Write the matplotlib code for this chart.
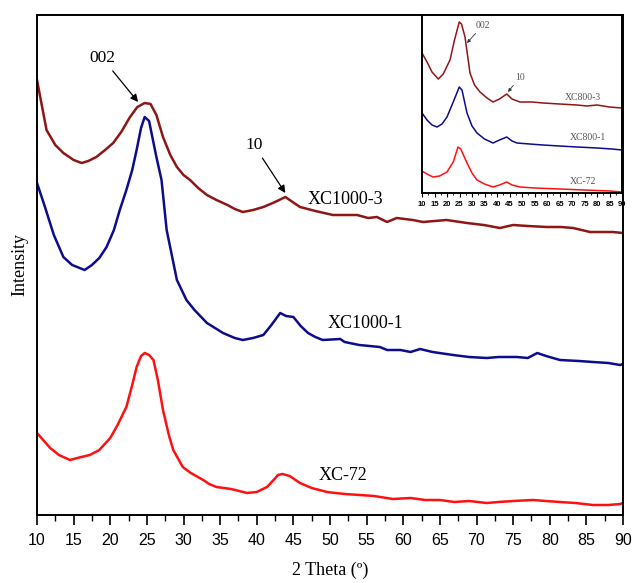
import matplotlib
matplotlib.use("Agg")
import matplotlib.pyplot as plt
import matplotlib.ticker as ticker

# ─── 主图数据（强度为任意单位） ───────────────────────────────────────────────
x_xc1000_3 = [10, 11.3, 12.5, 13.6, 15, 16.1, 17, 18.1, 19.3, 20.4, 21.5, 22.7, 23.7,
              24.7, 25.5, 26.3, 27.2, 28.2, 29.1, 30, 30.9, 32, 33.2, 34.5, 36, 37,
              38.1, 39.5, 40.9, 42.5, 43.9, 44.1, 45.9, 48, 50.4, 52, 53.7, 55.2,
              56.4, 57.8, 59.1, 61.3, 62.7, 65.9, 68.7, 71, 73.2, 75, 77, 79.6, 81.5,
              83.2, 85.5, 88.6, 90]
y_xc1000_3 = [435, 385, 370, 362, 355, 352, 354, 358, 365, 372, 383, 398, 408,
              412, 411, 400, 378, 360, 348, 340, 335, 327, 320, 315, 310, 306,
              303, 305, 308, 313, 318, 317, 308, 304, 300, 300, 300, 297,
              298, 293, 297, 295, 293, 295, 292, 290, 287, 290, 289, 288, 288,
              287, 283, 283, 282]

x_xc1000_1 = [10, 11, 12.3, 13.6, 14.8, 16.5, 17.5, 18.5, 19.5, 20.5, 21.3, 22.2, 23,
              23.6, 24.2, 24.7, 25.3, 26.3, 27, 27.7, 29.1, 30.4, 31.5, 33.2, 35.4,
              37, 38.1, 39.5, 40.9, 42, 43.2, 44, 45, 46, 47, 48, 49, 51.4, 52, 54,
              56.8, 57.8, 59.6, 61, 62.3, 64, 66.8, 69, 71.4, 73, 75.5, 77, 78.3,
              79.5, 81.4, 84, 85.9, 88, 89.6, 90]
y_xc1000_1 = [332, 310, 280, 258, 250, 245, 250, 257, 268, 285, 305, 325, 345,
              365, 387, 398, 394, 358, 335, 285, 235, 215, 205, 192, 182,
              177, 175, 177, 180, 190, 202, 199, 198, 189, 182, 178, 175, 176, 173, 170,
              168, 165, 165, 163, 166, 163, 160, 158, 157, 158, 158, 157, 162,
              159, 155, 154, 153, 152, 150, 151]

x_xc72 = [10, 11.8, 13, 14.5, 15.5, 17.2, 18.5, 20, 21, 22.2, 23, 23.6, 24.2, 24.7,
          25.3, 25.9, 26.5, 27.2, 28, 28.6, 29.9, 31, 32.7, 33.5, 34.5, 36.5, 38.7,
          40, 41.4, 42.3, 42.9, 43.5, 44.5, 45.9, 47.5, 49.6, 52, 54.1, 56, 58.6,
          61, 63, 65, 67, 69, 71.4, 73, 75, 77.7, 79.5, 81.4, 83.5, 85.9, 88, 89.6, 90]
y_xc72 = [82, 67, 60, 55, 57, 60, 65, 77, 90, 108, 130, 148, 159, 162,
          160, 155, 135, 105, 80, 65, 48, 42, 35, 31, 28, 26, 22,
          23, 28, 35, 40, 41, 39, 32, 27, 23, 21, 20, 19, 16,
          17, 15, 15, 13, 14, 12, 13, 14, 15, 14, 13, 12, 10, 10, 11, 12]

# ─── 插图数据 ────────────────────────────────────────────────────────────────
xi_800_3 = [10, 12, 14, 16.5, 18.5, 21.2, 23, 24.9, 25.8, 27.2, 28.2, 29.2, 31, 33.2,
            36, 38.4, 41, 43.9, 46, 49.2, 54, 58.4, 65, 72, 76, 80, 85, 90]
yi_800_3 = [140, 131, 121, 114, 119, 133, 153, 171, 169, 156, 138, 120, 108, 101,
            95, 91, 94, 99, 94, 91, 91, 90, 89, 88, 87, 88, 86, 85]

xi_800_1 = [10, 12, 14, 16, 18, 20, 22.5, 24.9, 26, 28, 30, 32, 35, 38.4, 41, 43.9,
            46, 48, 53, 58.4, 65, 72, 80, 86, 90]
yi_800_1 = [80, 73, 68, 66, 69, 76, 91, 106, 103, 80, 67, 60, 54, 50, 53, 56,
            52, 50, 49, 48, 47, 46, 45, 44, 43]

xi_xc72 = [10, 12, 14.4, 17, 20, 22.5, 24.4, 25.5, 28, 30, 32, 35, 38.4, 41, 43.9,
           46, 49.2, 55, 65, 75, 85, 90]
yi_xc72 = [22, 19, 16, 17, 21, 31, 46, 44, 30, 20, 13, 9, 6, 8, 11,
           8, 6, 5, 4, 3, 2, 1]

C_DRED = "#8e1616"
C_NAVY = "#0c0c8c"
C_RED = "#ff1010"
SERIF = "Liberation Serif"
SANS = "Liberation Sans"

fig = plt.figure(figsize=(6.35, 5.83), dpi=100)
ax = fig.add_axes([37 / 635, 68 / 583, 586 / 635, 500 / 583])

ax.plot(x_xc1000_3, y_xc1000_3, color=C_DRED, lw=1.8)
ax.plot(x_xc1000_1, y_xc1000_1, color=C_NAVY, lw=1.8)
ax.plot(x_xc72, y_xc72, color=C_RED, lw=1.8)

ax.set_xlim(10, 90)
ax.set_ylim(0, 500)
ax.xaxis.set_major_locator(ticker.MultipleLocator(5))
ax.xaxis.set_minor_locator(ticker.MultipleLocator(2.5))
ax.set_yticks([])
ax.tick_params(axis="x", which="major", direction="out", length=7, width=1.2,
               labelsize=11.5, pad=6)
ax.tick_params(axis="x", which="minor", direction="out", length=4, width=1.0)
for lab in ax.get_xticklabels():
    lab.set_family(SANS)
for sp in ax.spines.values():
    sp.set_linewidth(1.4)

ax.set_xlabel("2 Theta (º)", family=SERIF, fontsize=13, labelpad=10)
ax.set_ylabel("Intensity", family=SERIF, fontsize=13, labelpad=6)

arrow = dict(arrowstyle="-|>", color="black", lw=0.9, mutation_scale=11,
             shrinkA=2, shrinkB=0)
ax.annotate("002", xy=(23.8, 413), xytext=(18.9, 457), family=SERIF,
            fontsize=12.5, ha="center", va="center", arrowprops=arrow)
ax.annotate("10", xy=(43.9, 322), xytext=(39.6, 370), family=SERIF,
            fontsize=12.5, ha="center", va="center", arrowprops=arrow)
ax.text(46.9, 316, "XC1000-3", family=SERIF, fontsize=13, ha="left", va="center")
ax.text(49.7, 192, "XC1000-1", family=SERIF, fontsize=13, ha="left", va="center")
ax.text(48.4, 40, "XC-72", family=SERIF, fontsize=13, ha="left", va="center")

# ─── 插图 ────────────────────────────────────────────────────────────────────
ins = fig.add_axes([422 / 635, 390 / 583, 200 / 635, 178 / 583])
ins.plot(xi_800_3, yi_800_3, color=C_DRED, lw=1.1)
ins.plot(xi_800_1, yi_800_1, color=C_NAVY, lw=1.1)
ins.plot(xi_xc72, yi_xc72, color=C_RED, lw=1.1)
ins.set_xlim(10, 90)
ins.set_ylim(0, 178)
ins.xaxis.set_major_locator(ticker.MultipleLocator(5))
ins.xaxis.set_minor_locator(ticker.MultipleLocator(2.5))
ins.set_yticks([])
ins.tick_params(axis="x", which="major", direction="out", length=3, width=0.8,
                labelsize=5.5, pad=3)
ins.tick_params(axis="x", which="minor", direction="out", length=1.5, width=0.6)
for lab in ins.get_xticklabels():
    lab.set_family(SANS)
    lab.set_fontweight("bold")
for sp in ins.spines.values():
    sp.set_linewidth(1.4)

arrow_s = dict(arrowstyle="-|>", color="#333333", lw=0.6, mutation_scale=5,
               shrinkA=1, shrinkB=0)
ins.annotate("002", xy=(28, 150), xytext=(34.4, 168), family=SERIF, fontsize=7,
             color="#555555", ha="center", va="center", arrowprops=arrow_s)
ins.annotate("10", xy=(44.4, 101), xytext=(49.2, 116), family=SERIF, fontsize=7,
             color="#555555", ha="center", va="center", arrowprops=arrow_s)
ins.text(74.4, 96, "XC800-3", family=SERIF, fontsize=7, color="#555555",
         ha="center", va="center")
ins.text(76.4, 56, "XC800-1", family=SERIF, fontsize=7, color="#555555",
         ha="center", va="center")
ins.text(74.4, 11, "XC-72", family=SERIF, fontsize=7, color="#555555",
         ha="center", va="center")

fig.savefig("out.png", dpi=100)
